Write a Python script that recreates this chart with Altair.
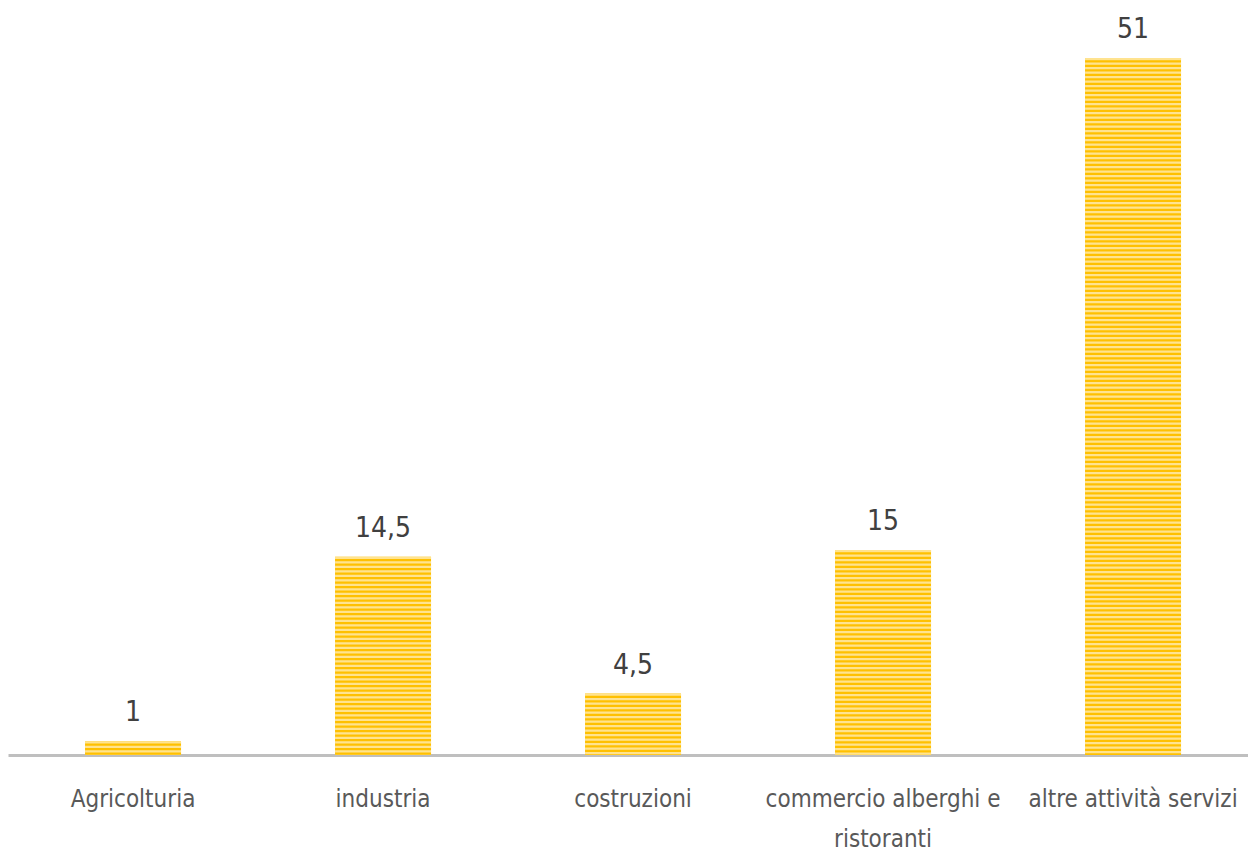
import altair as alt
import pandas as pd

categories = ["Agricolturia", "industria", "costruzioni",
              "commercio alberghi e ristoranti", "altre attività servizi"]
values = [1, 14.5, 4.5, 15, 51]

df = pd.DataFrame({"cat": categories, "val": values})

FONT = "DejaVu Sans Condensed"

x = alt.X("cat:N", sort=categories, title=None,
          scale=alt.Scale(paddingInner=0.616, paddingOuter=0.288, align=0.535),
          axis=alt.Axis(labelAngle=0, ticks=False, domainColor="#BFBFBF",
                        domainWidth=3, labelFont=FONT, labelFontSize=24,
                        labelColor="#595959", labelPadding=32, labelLimit=0,
                        labelLineHeight=40, labelBaseline="top",
                        labelExpr="datum.value == 'commercio alberghi e ristoranti' ? ['commercio alberghi e', 'ristoranti'] : datum.value"))
y = alt.Y("val:Q", title=None, axis=None,
          scale=alt.Scale(domain=[0, 51], nice=False, zero=True))

base = alt.Chart(df)

bars = base.mark_bar(color="#FFC000").encode(x=x, y=y)

stripes = base.mark_rule(color="#FFE38F", strokeWidth=96,
                         strokeDash=[2.2, 2.3], strokeCap="butt").encode(
    x=x, y=y, y2=alt.datum(0))

labels = base.mark_text(baseline="bottom", dy=-14, font=FONT, fontSize=28,
                        color="#404040").transform_calculate(
    lab="replace(toString(datum.val), '.', ',')").encode(
    x=x, y=y, text="lab:N")

chart = alt.layer(bars, stripes, labels).properties(
    width=1240, height=697,
    autosize=alt.AutoSizeParams(type="none"),
    padding={"left": 0, "top": 50, "right": 0, "bottom": 98},
    background="white",
).configure_view(stroke=None)

chart.save("out.html", embed_options={"renderer": "svg", "actions": False})
